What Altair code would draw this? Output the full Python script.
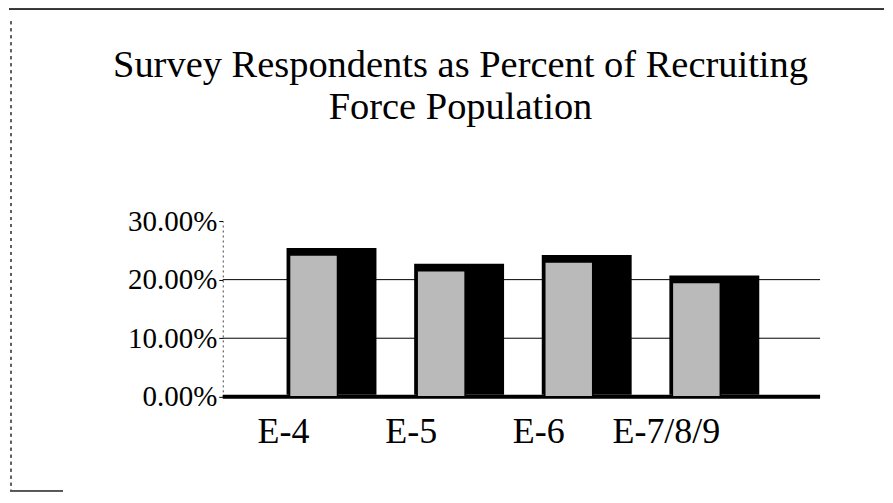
import altair as alt
import pandas as pd

categories = ["E-4", "E-5", "E-6", "E-7/8/9"]
values = [0.242, 0.215, 0.230, 0.195]
grid_values = [0.1, 0.2]
floor_values = [0.0]
y_ticks = [0.0, 0.1, 0.2, 0.3]
title_lines = ["Survey Respondents as Percent of Recruiting", "Force Population"]

df = pd.DataFrame({"cat": categories, "val": values})
gdf = pd.DataFrame({"g": grid_values})
fdf = pd.DataFrame({"g": floor_values})

FONT = "Liberation Serif"

yscale = alt.Scale(domain=[0, 0.3], nice=False)
yaxis = alt.Axis(title=None, values=y_ticks, format=".2%", labelFont=FONT,
                 labelFontSize=29, labelColor="black", labelPadding=2,
                 tickSize=4, tickColor="black", grid=False,
                 domainColor="#444", domainDash=[2, 3], domainWidth=1)

xs = alt.X("cat:N", sort=categories,
           scale=alt.Scale(range=[27, 538], paddingInner=0, paddingOuter=0),
           axis=alt.Axis(title=None, labelAngle=0, labelFont=FONT, labelFontSize=36,
                         labelColor="black", labelOffset=-30, labelPadding=18,
                         ticks=False, domain=False))
ys = alt.Y("val:Q", scale=yscale, axis=yaxis)

base = alt.Chart(df)

grid = alt.Chart(gdf).mark_rule(color="black", strokeWidth=1).encode(
    y=alt.Y("g:Q", scale=yscale, axis=yaxis))

floor = alt.Chart(fdf).mark_rule(color="black", strokeWidth=4).encode(
    y=alt.Y("g:Q", scale=yscale, axis=yaxis))

back = base.mark_bar(size=90, xOffset=18, yOffset=-7, y2Offset=-2, color="black").encode(
    x=xs, y=ys, y2=alt.datum(0))

front = base.mark_bar(size=48, color="#bababa", stroke="black", strokeWidth=1.5).encode(
    x=xs, y=ys, y2=alt.datum(0))

frame_top = alt.Chart(df).mark_rule(color="#333", strokeWidth=1.5, clip=False).encode(
    x=alt.value(-214), x2=alt.value(662), y=alt.value(-212))
frame_left = alt.Chart(df).mark_rule(color="#555", strokeWidth=1, strokeDash=[3, 4], clip=False).encode(
    x=alt.value(-212), y=alt.value(-200), y2=alt.value(270))
frame_bottom = alt.Chart(df).mark_rule(color="#555", strokeWidth=1.5, clip=False).encode(
    x=alt.value(-213), x2=alt.value(-160), y=alt.value(270))

chart = alt.layer(grid, floor, back, front, frame_top, frame_left, frame_bottom).properties(
    width=598, height=176,
    padding=0,
    title=alt.TitleParams(text=title_lines, font=FONT, fontSize=38.5, fontWeight="normal",
                          color="black", anchor="middle", frame="group", dx=-61,
                          offset=-119, lineHeight=42),
).configure_view(stroke=None)

chart.save("out.html", embed_options={"renderer": "svg", "actions": False})
